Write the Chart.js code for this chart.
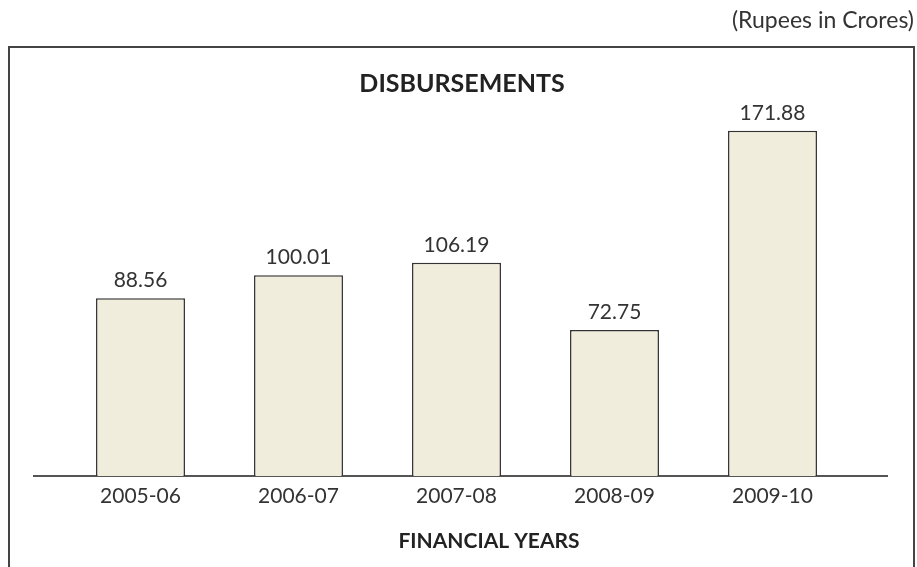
<!DOCTYPE html>
<html>
<head>
<meta charset="utf-8">
<script src="https://cdn.jsdelivr.net/npm/chart.js@4/dist/chart.umd.min.js"></script>
<style>
  html, body { margin: 0; padding: 0; background: #fff; }
  #wrap { width: 917px; height: 567px; position: relative; }
</style>
</head>
<body>
<div id="wrap"><canvas id="disbChart" width="917" height="567"></canvas></div>
<script>
// Disbursements by financial year (Rupees in Crores)
const years = ["2005-06", "2006-07", "2007-08", "2008-09", "2009-10"];
const disbursements = [88.56, 100.01, 106.19, 72.75, 171.88];
const valueLabels = ["88.56", "100.01", "106.19", "72.75", "171.88"];

const FONT = "Lato, 'Open Sans', sans-serif";
const INK = '#333';

// frame, notes, headings, value labels and the long base line
const decorPlugin = {
  id: 'decor',
  beforeDatasetsDraw(chart) {
    const ctx = chart.ctx;
    const y0 = chart.scales.y.getPixelForValue(0);
    ctx.save();
    ctx.strokeStyle = '#555';
    ctx.lineWidth = 2;
    ctx.beginPath();
    ctx.moveTo(33, y0);
    ctx.lineTo(888, y0);
    ctx.stroke();
    ctx.restore();
  },
  afterDraw(chart) {
    const ctx = chart.ctx;
    ctx.save();
    // outer frame (open at the bottom)
    ctx.strokeStyle = '#444';
    ctx.lineWidth = 2;
    ctx.beginPath();
    ctx.moveTo(9, 567);
    ctx.lineTo(9, 47);
    ctx.lineTo(914, 47);
    ctx.lineTo(914, 567);
    ctx.stroke();

    ctx.fillStyle = INK;
    ctx.textBaseline = 'middle';

    ctx.font = '23px ' + FONT;
    ctx.textAlign = 'right';
    ctx.fillText('(Rupees in Crores)', 914, 21);

    ctx.textAlign = 'center';
    ctx.fillStyle = '#222';
    ctx.font = 'bold 25px ' + FONT;
    ctx.fillText('DISBURSEMENTS', 462, 84);
    ctx.font = 'bold 21px ' + FONT;
    ctx.fillText('FINANCIAL YEARS', 489, 541);

    // value labels above bars
    ctx.fillStyle = INK;
    ctx.font = '21px ' + FONT;
    ctx.textBaseline = 'alphabetic';
    const meta = chart.getDatasetMeta(0);
    meta.data.forEach((bar, i) => {
      ctx.fillText(valueLabels[i], bar.x, bar.y - 11);
    });
    ctx.restore();
  }
};

const ctx = document.getElementById('disbChart').getContext('2d');
const chart = new Chart(ctx, {
  type: 'bar',
  data: {
    labels: years,
    datasets: [{
      label: 'Disbursements',
      data: disbursements,
      backgroundColor: '#f1eddc',
      borderColor: '#333',
      borderWidth: 1.5,
      categoryPercentage: 1.0,
      barPercentage: 0.563
    }]
  },
  options: {
    responsive: false,
    maintainAspectRatio: false,
    animation: false,
    layout: { padding: { left: 61.5, right: 65.5, top: 74.4, bottom: 0 } },
    plugins: {
      legend: { display: false },
      tooltip: { enabled: false },
      title: { display: false }
    },
    scales: {
      x: {
        grid: { display: false, drawTicks: false },
        border: { display: false },
        ticks: {
          color: INK,
          font: { family: FONT, size: 21 },
          padding: 8,
          maxRotation: 0
        },
        afterFit(scale) { scale.height = 91; }
      },
      y: {
        display: false,
        min: 0,
        max: 200
      }
    }
  },
  plugins: [decorPlugin]
});
</script>
</body>
</html>
